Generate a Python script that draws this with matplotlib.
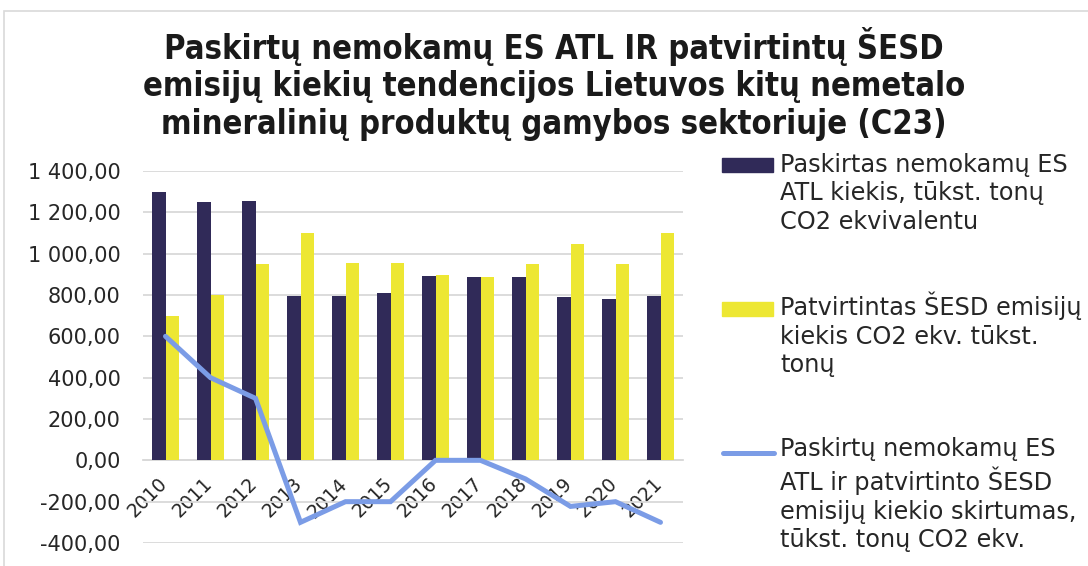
import matplotlib
matplotlib.use('Agg')
import matplotlib.pyplot as plt
import numpy as np
from matplotlib.ticker import FuncFormatter, MultipleLocator
from matplotlib.patches import Rectangle
from matplotlib.lines import Line2D
from matplotlib.transforms import ScaledTranslation

years = ['2010', '2011', '2012', '2013', '2014', '2015', '2016', '2017', '2018', '2019', '2020', '2021']
allocated = [1300, 1250, 1255, 797, 794, 808, 892, 889, 887, 789, 782, 797]
verified = [698, 798, 948, 1098, 953, 955, 895, 887, 948, 1047, 950, 1098]
difference = [600, 400, 300, -300, -200, -200, 0, 0, -90, -223, -200, -300]

title = ("Paskirtų nemokamų ES ATL IR patvirtintų ŠESD\n"
         "emisijų kiekių tendencijos Lietuvos kitų nemetalo\n"
         "mineralinių produktų gamybos sektoriuje (C23)")
labels = ["Paskirtas nemokamų ES\nATL kiekis, tūkst. tonų\nCO2 ekvivalentu",
          "Patvirtintas ŠESD emisijų\nkiekis CO2 ekv. tūkst.\ntonų",
          "Paskirtų nemokamų ES\nATL ir patvirtinto ŠESD\nemisijų kiekio skirtumas,\ntūkst. tonų CO2 ekv."]

C_DARK = '#302A58'
C_YEL = '#EDE733'
C_LINE = '#7B9CE6'
C_GRID = '#D9D9D9'
C_TXT = '#262626'

W, H = 1088, 566
fig = plt.figure(figsize=(W / 100, H / 100), dpi=100)
fig.patch.set_facecolor('white')

# outer chart border
fig.add_artist(Rectangle((4 / W, -0.1), 1.2, (H - 11) / H + 0.1, transform=fig.transFigure,
                         fill=False, edgecolor='#D9D9D9', linewidth=1.2))

ax = fig.add_axes([143 / W, 23 / H, 540 / W, 372 / H])
x = np.arange(len(years))
bw = 0.29
ax.bar(x - bw / 2, allocated, width=bw, color=C_DARK, zorder=2)
ax.bar(x + bw / 2, verified, width=bw, color=C_YEL, zorder=2)
ax.plot(x, difference, color=C_LINE, linewidth=3.6, solid_joinstyle='miter', solid_capstyle='round', zorder=3)

ax.set_xlim(-0.5, len(years) - 0.5)
ax.set_ylim(-400, 1400)
ax.yaxis.set_major_locator(MultipleLocator(200))

def fmt(v, pos):
    s = f"{abs(v):,.2f}".replace(',', ' ').replace('.', ',')
    return ('-' if v < 0 else '') + s

ax.yaxis.set_major_formatter(FuncFormatter(fmt))
ax.grid(axis='y', color=C_GRID, linewidth=1.3, zorder=0)
ax.set_axisbelow(True)
for s in ['top', 'right', 'left']:
    ax.spines[s].set_visible(False)
ax.spines['bottom'].set_position(('data', 0))
ax.spines['bottom'].set_color(C_GRID)
ax.spines['bottom'].set_linewidth(1.3)
ax.spines['bottom'].set_zorder(1)

ax.set_xticks(x)
ax.set_xticklabels(years, rotation=45, ha='right', va='top', rotation_mode='anchor')
ax.tick_params(axis='x', length=0, pad=10, labelsize=13.5, labelcolor=C_TXT)
ax.tick_params(axis='y', length=0, pad=16, labelsize=15, labelcolor=C_TXT)
off = ScaledTranslation(-8 / 100, 0, fig.dpi_scale_trans)
for lbl in ax.get_xticklabels():
    lbl.set_transform(lbl.get_transform() + off)

fig.text(554 / W, 1 - 84 / H, title, ha='center', va='center', fontsize=23.5,
         fontweight='bold', fontstretch='condensed', family='DejaVu Sans',
         color='#1a1a1a', linespacing=1.19)

# legend
handle_y = [165, 309, 453]
base_y = [171.7, 315, 461.7]
LS = 28.5
kinds = ['bar_d', 'bar_y', 'line']
for hy, by, lab, k in zip(handle_y, base_y, labels, kinds):
    yf = 1 - hy / H
    if k == 'bar_d':
        fig.add_artist(Rectangle((722 / W, yf - 7 / H), 51 / W, 14 / H, transform=fig.transFigure,
                                 color=C_DARK))
    elif k == 'bar_y':
        fig.add_artist(Rectangle((722 / W, yf - 7 / H), 51 / W, 14 / H, transform=fig.transFigure,
                                 color=C_YEL))
    else:
        fig.add_artist(Line2D([723 / W, 774 / W], [yf, yf], transform=fig.transFigure,
                              color=C_LINE, linewidth=3.6, solid_capstyle='round'))
    n = lab.count('\n')
    fig.text(780 / W, 1 - (by + n * LS) / H, lab, ha='left', va='baseline', fontsize=17.3,
             color=C_TXT, linespacing=1.235)

fig.savefig('out.png', dpi=100)
